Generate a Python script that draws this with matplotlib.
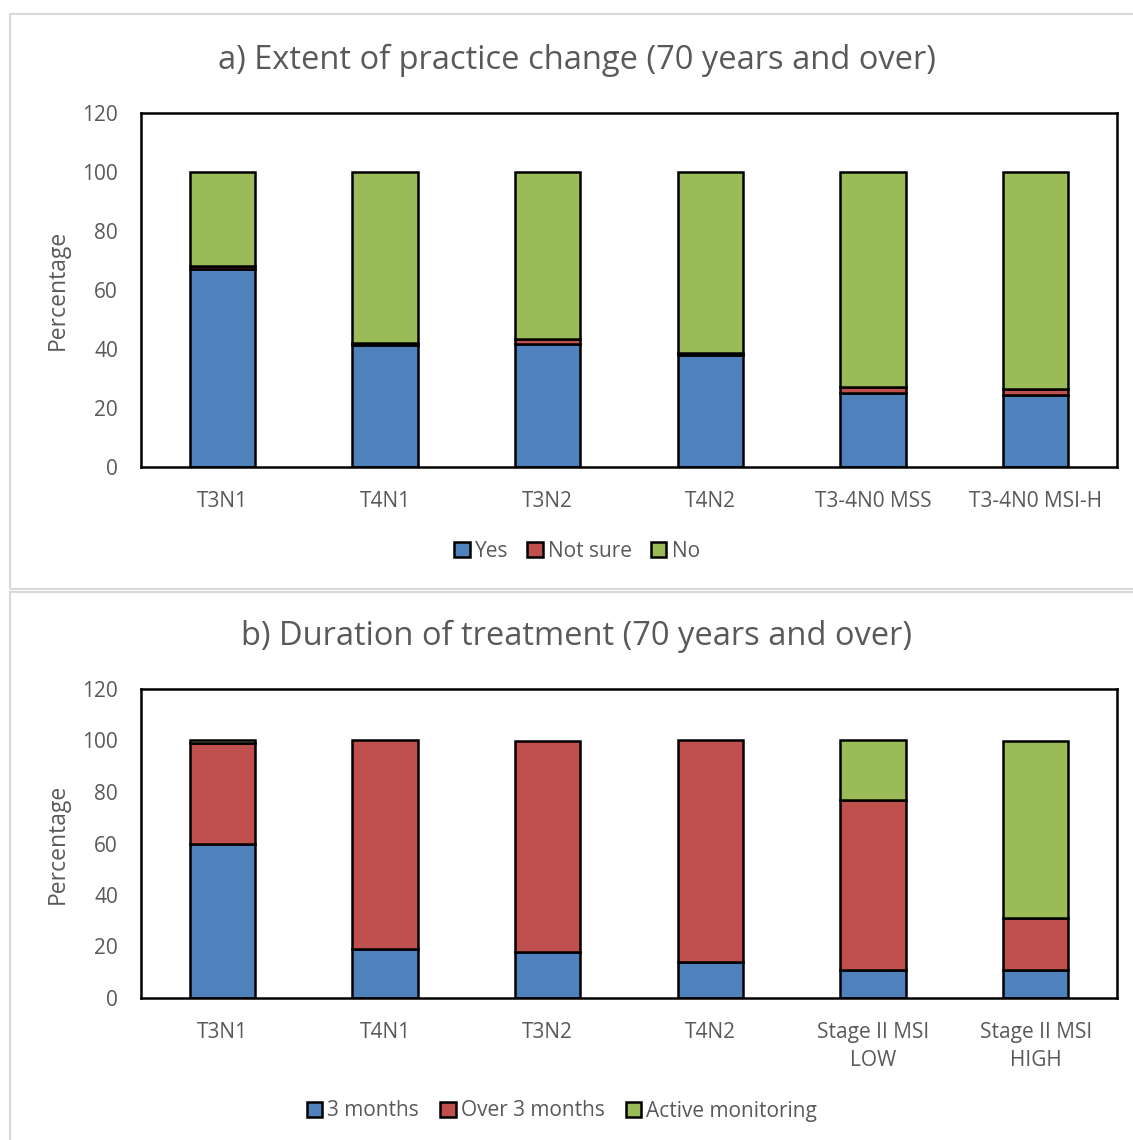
import matplotlib
matplotlib.use("Agg")
import matplotlib.pyplot as plt
from matplotlib.patches import Rectangle
import numpy as np

plt.rcParams['font.family'] = ['Open Sans', 'DejaVu Sans']

# Panel a: extent of practice change
cats_a = ["T3N1", "T4N1", "T3N2", "T4N2", "T3-4N0 MSS", "T3-4N0 MSI-H"]
yes = [67, 41.4, 41.7, 38, 25, 24.4]
not_sure = [1, 0.6, 1.6, 0.8, 2, 2.1]
no = [32, 58, 56.7, 61.2, 73, 73.5]

# Panel b: duration of treatment
cats_b = ["T3N1", "T4N1", "T3N2", "T4N2", "Stage II MSI\nLOW", "Stage II MSI\nHIGH"]
three_months = [60, 19, 18, 14, 11, 11]
over_three = [39, 81, 82, 86, 66, 20]
active_mon = [1, 0, 0, 0, 23, 69]

BLUE, RED, GREEN = "#4F81BD", "#C0504D", "#9BBB59"
TXT = "#595959"
W, H = 1133, 1140

fig = plt.figure(figsize=(W / 100, H / 100), dpi=100)

# light panel frames
for (x0, y0, w, h) in [(10 / W, 1 - 589 / H, 1.0, 575 / H),
                       (10 / W, -0.01, 1.0, 1 - 592 / H + 0.01)]:
    fig.add_artist(Rectangle((x0, y0), w, h, transform=fig.transFigure,
                             fill=False, edgecolor="#D9D9D9", linewidth=1.5))


def stacked(ax, cats, series, labels, colors, title, title_y,
            legend_xy, colsp):
    x = np.arange(len(cats))
    bottom = np.zeros(len(cats))
    handles = []
    for vals, lab, col in zip(series, labels, colors):
        vals = np.asarray(vals, dtype=float)
        b = ax.bar(x, vals, width=0.4, bottom=bottom, color=col,
                   edgecolor="black", linewidth=1.8, label=lab)
        # empty segments should not leave an outline behind
        for patch, v in zip(b.patches, vals):
            if v == 0:
                patch.set_visible(False)
        handles.append(b)
        bottom += vals
    ax.set_xlim(-0.5, len(cats) - 0.5)
    ax.set_ylim(0, 120)
    ax.set_yticks(range(0, 121, 20))
    ax.set_xticks(x)
    ax.set_xticklabels(cats, linespacing=1.45)
    ax.tick_params(axis="both", length=0, labelsize=15, colors=TXT)
    ax.tick_params(axis="y", pad=16.5)
    ax.tick_params(axis="x", pad=17)
    for s in ax.spines.values():
        s.set_linewidth(1.8)
        s.set_color("black")
    ax.set_ylabel("Percentage", fontsize=16.5, color=TXT, labelpad=9)
    fig.text(577 / W, 1 - title_y / H, title, fontsize=23.5, color=TXT,
             ha="center", va="center")
    ax.legend(handles=handles, loc="center",
              bbox_to_anchor=(legend_xy[0] / W, 1 - legend_xy[1] / H),
              bbox_transform=fig.transFigure, ncol=3, frameon=False,
              fontsize=15, labelcolor=TXT, handlelength=0.75, handleheight=0.75,
              handletextpad=0.25, columnspacing=colsp, borderpad=0,
              borderaxespad=0)


ax1 = fig.add_axes([141 / W, 1 - 467 / H, 976 / W, 354 / H])
stacked(ax1, cats_a, [yes, not_sure, no], ["Yes", "Not sure", "No"],
        [BLUE, RED, GREEN], "a) Extent of practice change (70 years and over)",
        60, (577, 551), 0.9)

ax2 = fig.add_axes([141 / W, 1 - 998 / H, 976 / W, 309 / H])
stacked(ax2, cats_b, [three_months, over_three, active_mon],
        ["3 months", "Over 3 months", "Active monitoring"],
        [BLUE, RED, GREEN], "b) Duration of treatment (70 years and over)",
        636, (562, 1111), 1.0)

fig.savefig("out.png", dpi=100)
